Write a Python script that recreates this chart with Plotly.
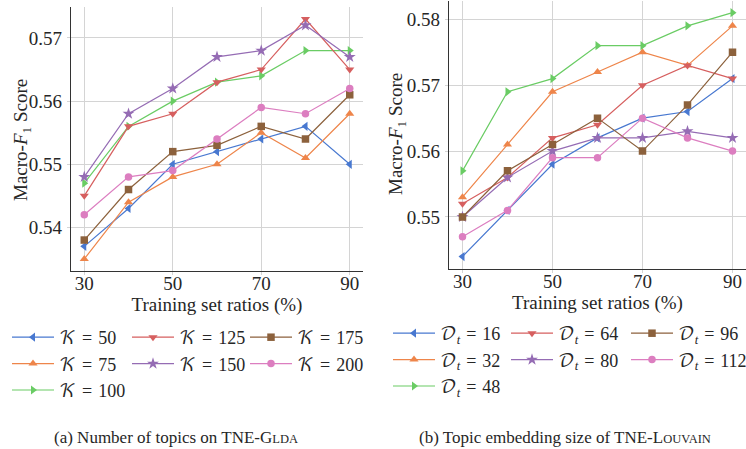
import plotly.graph_objects as go

ratios = [30, 40, 50, 60, 70, 80, 90]

# Left panel: number of topics K
k_labels = ["50", "75", "100", "125", "150", "175", "200"]
k_50 = [0.537, 0.543, 0.550, 0.552, 0.554, 0.556, 0.550]
k_75 = [0.535, 0.544, 0.548, 0.550, 0.555, 0.551, 0.558]
k_100 = [0.547, 0.556, 0.560, 0.563, 0.564, 0.568, 0.568]
k_125 = [0.545, 0.556, 0.558, 0.563, 0.565, 0.573, 0.565]
k_150 = [0.548, 0.558, 0.562, 0.567, 0.568, 0.572, 0.567]
k_175 = [0.538, 0.546, 0.552, 0.553, 0.556, 0.554, 0.561]
k_200 = [0.542, 0.548, 0.549, 0.554, 0.559, 0.558, 0.562]

# Right panel: topic embedding size D_t
d_labels = ["16", "32", "48", "64", "80", "96", "112"]
d_16 = [0.544, 0.551, 0.558, 0.562, 0.565, 0.566, 0.571]
d_32 = [0.553, 0.561, 0.569, 0.572, 0.575, 0.573, 0.579]
d_48 = [0.557, 0.569, 0.571, 0.576, 0.576, 0.579, 0.581]
d_64 = [0.552, 0.556, 0.562, 0.564, 0.570, 0.573, 0.571]
d_80 = [0.550, 0.556, 0.560, 0.562, 0.562, 0.563, 0.562]
d_96 = [0.550, 0.557, 0.561, 0.565, 0.560, 0.567, 0.575]
d_112 = [0.547, 0.551, 0.559, 0.559, 0.565, 0.562, 0.560]

x_ticks = [30, 50, 70, 90]

colors = ["#4878d0", "#ee854a", "#6acc64", "#d65f5f", "#956cb4", "#8c613c", "#dc7ec0"]
symbols = ["triangle-left", "triangle-up", "triangle-right", "triangle-down", "star", "square", "circle"]
msizes = [8, 8, 8, 8, 9, 7.5, 7.5]

SERIF = "Liberation Serif, Times New Roman, serif"
MATH = "Liberation Serif, DejaVu Math TeX Gyre, DejaVu Serif, serif"
TXT = "#262626"
SP = "\u2004"

fig = go.Figure()

left_series = [k_50, k_75, k_100, k_125, k_150, k_175, k_200]
right_series = [d_16, d_32, d_48, d_64, d_80, d_96, d_112]
# column-major legend layout: 3 rows, 3 columns
legend_cols = [0, 0, 0, 1, 1, 2, 2]

for i, (lab, ys) in enumerate(zip(k_labels, left_series)):
    fig.add_trace(go.Scatter(
        x=ratios, y=ys, mode="lines+markers",
        name="\U0001D4A6" + SP + "=" + SP + lab,
        line=dict(color=colors[i], width=1.2),
        marker=dict(symbol=symbols[i], size=msizes[i], color=colors[i], line=dict(width=0)),
        xaxis="x", yaxis="y",
        legend=["legend", "legend2", "legend3"][legend_cols[i]],
    ))

for i, (lab, ys) in enumerate(zip(d_labels, right_series)):
    fig.add_trace(go.Scatter(
        x=ratios, y=ys, mode="lines+markers",
        name="\U0001D49F<sub><i>t</i></sub>" + SP + "=" + SP + lab,
        line=dict(color=colors[i], width=1.2),
        marker=dict(symbol=symbols[i], size=msizes[i], color=colors[i], line=dict(width=0)),
        xaxis="x2", yaxis="y2",
        legend=["legend4", "legend5", "legend6"][legend_cols[i]],
    ))

W, H = 746, 449

def px_x(p):
    return p / W

def px_y(p):
    return 1 - p / H

axis_common = dict(
    showgrid=True, gridcolor="#d4d4d4", gridwidth=1,
    showline=True, linecolor="#333333", linewidth=1.3,
    zeroline=False, ticks="outside", ticklen=3, tickcolor="#d4d4d4", tickwidth=1,
    automargin=False,
    tickfont=dict(family=SERIF, size=19, color=TXT),
)

xt = dict(text="Training set ratios (%)", font=dict(family=SERIF, size=19, color=TXT), standoff=0)

leg_common = dict(
    bgcolor="rgba(0,0,0,0)", font=dict(family=MATH, size=18, color=TXT),
    xanchor="left", yanchor="top", tracegroupgap=0, itemwidth=42,
    orientation="v",
)

fig.update_layout(
    width=W, height=H,
    margin=dict(l=0, r=0, t=0, b=0, autoexpand=False),
    paper_bgcolor="white", plot_bgcolor="white",
    font=dict(family=SERIF, color=TXT),
    xaxis=dict(axis_common, domain=[px_x(71), px_x(363)], range=[27, 93],
               tickvals=x_ticks, anchor="y", ticklabelstandoff=-8, title=xt),
    yaxis=dict(axis_common, domain=[px_y(271), px_y(7)], range=[0.5331, 0.5749],
               tickvals=[0.54, 0.55, 0.56, 0.57], tickformat=".2f", anchor="x",
               ticklabelstandoff=1),
    xaxis2=dict(axis_common, domain=[px_x(449), px_x(746)], range=[27, 93],
                tickvals=x_ticks, anchor="y2", ticklabelstandoff=-8, title=xt),
    yaxis2=dict(axis_common, domain=[px_y(268.7), px_y(0.5)], range=[0.54215, 0.58285],
                tickvals=[0.55, 0.56, 0.57, 0.58], tickformat=".2f", anchor="x2",
                ticklabelstandoff=1),
    legend=dict(leg_common, x=px_x(7), y=px_y(319)),
    legend2=dict(leg_common, x=px_x(127), y=px_y(319)),
    legend3=dict(leg_common, x=px_x(245), y=px_y(319)),
    legend4=dict(leg_common, x=px_x(388), y=px_y(315)),
    legend5=dict(leg_common, x=px_x(506), y=px_y(315)),
    legend6=dict(leg_common, x=px_x(626), y=px_y(315)),
    showlegend=True,
)

# y-axis titles
for xc, yc in [(22, 140), (397, 134)]:
    fig.add_annotation(
        x=px_x(xc), y=px_y(yc), xref="paper", yref="paper", showarrow=False,
        text="Macro-<i>F</i><sub>1</sub> Score", textangle=-90,
        font=dict(family=SERIF, size=19, color=TXT), xanchor="center", yanchor="middle",
    )

fig.add_annotation(
    x=px_x(176), y=px_y(437), xref="paper", yref="paper", showarrow=False,
    text="(a) Number of topics on TNE-G<span style='font-size:12.5px'>LDA</span>",
    font=dict(family=SERIF, size=17, color=TXT), xanchor="center", yanchor="middle",
)
fig.add_annotation(
    x=px_x(565), y=px_y(437), xref="paper", yref="paper", showarrow=False,
    text="(b) Topic embedding size of TNE-L<span style='font-size:12.5px'>OUVAIN</span>",
    font=dict(family=SERIF, size=17, color=TXT), xanchor="center", yanchor="middle",
)

fig.write_html("out.html", config={"displayModeBar": False},
               post_script="document.body.style.margin='0px';")
